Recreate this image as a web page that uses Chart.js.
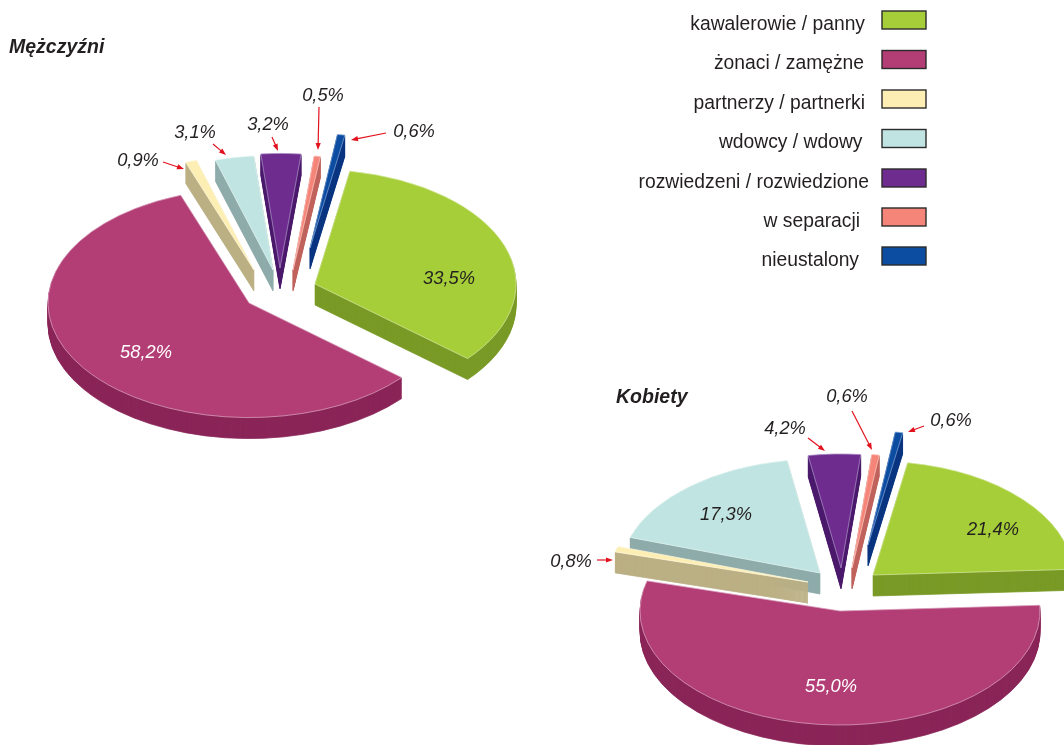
<!DOCTYPE html>
<html lang="pl">
<head>
<meta charset="utf-8">
<title>Stan cywilny</title>
<script src="https://cdn.jsdelivr.net/npm/chart.js@4"></script>
<style>
html,body{margin:0;padding:0;background:#fff;width:1064px;height:745px;overflow:hidden}
canvas{position:absolute;display:block}
</style>
</head>
<body>
<canvas id="men" style="left:0;top:0"></canvas>
<canvas id="women" style="left:540px;top:380px"></canvas>
<script>
// ---- data ----
const categories = ['kawalerowie / panny','żonaci / zamężne','partnerzy / partnerki','wdowcy / wdowy','rozwiedzeni / rozwiedzione','w separacji','nieustalony'];
const menValues = [33.5,58.2,0.9,3.1,3.2,0.5,0.6];
const womenValues = [21.4,55.0,0.8,17.3,4.2,0.6,0.6];
const menTitle = 'Mężczyźni';
const womenTitle = 'Kobiety';

// ---- styles ----
const topColors = ['#a6ce39','#b33d75','#fdeeb4','#c0e4e1','#6f2c8f','#f58578','#0c4da2'];
const wallColors = ['#7a9a26','#8a2558','#bbb084','#8eacaa','#4b1a6b','#c0635c','#0a3580'];
const edgeColors = ['#d3e79a','#d89dbb','#fff8dc','#e2f3f1','#a78cc4','#fbc4bd','#7a9ed2'];
const FONT = '"Liberation Sans", Arial, sans-serif';
const TILT = 0.57, DEPTH = 21, DRAW_ORDER = [1,0,3,2,4,5,6];

// ---- layout: how far each slice is pulled out of its pie (px on the page) ----
const menExplode = [[35,-7],[-31,12],[-26,-21],[-7,-21],[0,-23],[13,-21],[30,-43]];
const womenExplode = [[33,-16],[0,20],[-32,-9],[-20,-18],[1,-23],[12,-23],[28,-46]];
// label centres, relative to the canvas of the chart
const menLabelPos = [[449,279],[146,353],[138,161],[195,133],[268,125],[323,96],[414,132]];
const womenLabelPos = [[453,150],[291,307],[31,182],[186,135],[245,49],[307,17],[411,41]];
const menArrows = [null,null,[163,162,184,169],[213,144,226,155],[272,137,278,151],[319,107,318,150],[386,133,351,140]];
const womenArrows = [null,null,[57,180,73,180],null,[268,58,285,71],[312,31,332,70],[384,46,368,52]];
const legendRight = [865,864,865,862.5,869,860,859];
const legendY = [20,59.5,99,138.5,178,217,256];

function pct(v){ return v.toFixed(1).replace('.',',') + '%'; }

function arrow(ctx,a){
  const [x0,y0,x1,y1] = a, ang = Math.atan2(y1-y0,x1-x0), L = 7, W = 2.6;
  ctx.strokeStyle = ctx.fillStyle = '#e2131f';
  ctx.lineWidth = 1.2;
  ctx.beginPath();ctx.moveTo(x0,y0);ctx.lineTo(x1-Math.cos(ang)*L*.8,y1-Math.sin(ang)*L*.8);ctx.stroke();
  ctx.beginPath();ctx.moveTo(x1,y1);
  ctx.lineTo(x1-Math.cos(ang)*L-Math.sin(ang)*W,y1-Math.sin(ang)*L+Math.cos(ang)*W);
  ctx.lineTo(x1-Math.cos(ang)*L+Math.sin(ang)*W,y1-Math.sin(ang)*L-Math.cos(ang)*W);
  ctx.closePath();ctx.fill();
}

const pie3d = {
  id:'pie3d',
  afterDatasetsUpdate(chart){
    const arcs = chart.getDatasetMeta(0).data, ex = chart.options.plugins.pie3d.explode;
    const cy = (chart.chartArea.top+chart.chartArea.bottom)/2, cx = (chart.chartArea.left+chart.chartArea.right)/2;
    arcs.forEach((arc,i)=>{ arc.x = cx+ex[i][0]; arc.y = cy+ex[i][1]/TILT; });
  },
  beforeDatasetsDraw(chart){
    const ctx = chart.ctx, arcs = chart.getDatasetMeta(0).data;
    const cy = (chart.chartArea.top+chart.chartArea.bottom)/2, cx = (chart.chartArea.left+chart.chartArea.right)/2;
    const place = d=>{ ctx.translate(cx,cy+d); ctx.scale(1,TILT); ctx.translate(-cx,-cy); };
    DRAW_ORDER.forEach(i=>{
      const arc = arcs[i], real = arc.options;
      arc.options = {offset:0,spacing:0,circular:true,borderAlign:'center',borderWidth:1,borderRadius:0,
        borderDash:[],borderDashOffset:0,borderJoinStyle:'round',backgroundColor:wallColors[i],borderColor:wallColors[i]};
      for(let d=DEPTH;d>=1;d--){ ctx.save(); place(d); arc.draw(ctx); ctx.restore(); }
      arc.options = real;
      ctx.save(); place(0); arc.draw(ctx); ctx.restore();
    });
    return false;
  },
  afterDraw(chart){
    const ctx = chart.ctx, o = chart.options.plugins.pie3d;
    ctx.save();
    ctx.textBaseline = 'middle';
    ctx.font = 'italic bold 19.5px '+FONT; ctx.fillStyle = '#231f20'; ctx.textAlign = 'left';
    ctx.fillText(o.title,o.titlePos[0],o.titlePos[1]);
    ctx.font = 'italic 18.3px '+FONT; ctx.textAlign = 'center';
    o.values.forEach((v,i)=>{
      ctx.fillStyle = i===o.whiteLabel ? '#ffffff' : '#231f20';
      ctx.fillText(pct(v),o.labelPos[i][0],o.labelPos[i][1]);
    });
    o.arrows.forEach(a=>{ if(a) arrow(ctx,a); });
    if(o.legend){
      ctx.font = '19.3px '+FONT; ctx.textAlign = 'right';
      categories.forEach((c,i)=>{
        ctx.fillStyle = '#231f20';
        ctx.fillText(c,legendRight[i],legendY[i]+4.5);
        ctx.fillStyle = topColors[i];
        ctx.fillRect(882,legendY[i]-9,44,18);
        ctx.strokeStyle = '#2b2b2b'; ctx.lineWidth = 1.4;
        ctx.strokeRect(882,legendY[i]-9,44,18);
      });
    }
    ctx.restore();
  }
};

function makePie(id,w,h,padRight,padBottom,values,radius,extra){
  const el = document.getElementById(id);
  el.width = w; el.height = h; el.style.width = w+'px'; el.style.height = h+'px';
  return new Chart(el,{
    type:'pie',
    data:{labels:categories,datasets:[{data:values,backgroundColor:topColors,borderColor:edgeColors,borderWidth:1,clip:false}]},
    options:{
      responsive:false,animation:false,devicePixelRatio:1,
      rotation:10,radius:radius,
      layout:{padding:{left:0,top:0,right:padRight,bottom:padBottom}},
      events:[],
      plugins:{legend:{display:false},tooltip:{enabled:false},title:{display:false},
        pie3d:Object.assign({values},extra)}
    },
    plugins:[pie3d]
  });
}
makePie('men',1064,745,504,163,menValues,201,{explode:menExplode,labelPos:menLabelPos,arrows:menArrows,
  title:menTitle,titlePos:[9,48],whiteLabel:1,legend:true});
makePie('women',600,422,0,0,womenValues,200,{explode:womenExplode,labelPos:womenLabelPos,arrows:womenArrows,
  title:womenTitle,titlePos:[76,18],whiteLabel:1,legend:false});
</script>
</body>
</html>
